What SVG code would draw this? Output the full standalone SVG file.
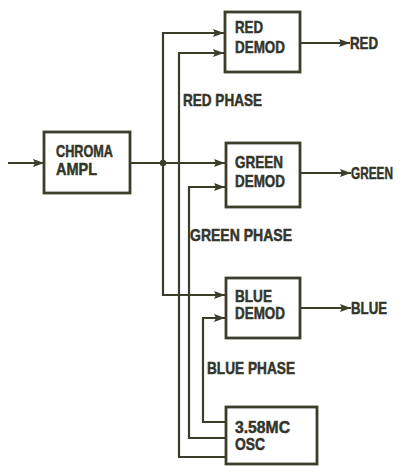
<svg xmlns="http://www.w3.org/2000/svg" width="400" height="466" viewBox="0 0 400 466">
<style>
.box{fill:#fff;stroke:#3c3d2a;stroke-width:2.8}
.ln{fill:none;stroke:#3c3d2a;stroke-width:2.2}
.t{font-family:"Liberation Sans",Arial,sans-serif;font-weight:bold;font-size:16.5px;fill:#34352a;stroke:#34352a;stroke-width:0.5}
</style>
<defs>
<marker id="arr" viewBox="0 0 11 8" refX="11" refY="4" markerWidth="11" markerHeight="8" markerUnits="userSpaceOnUse" orient="auto">
<path d="M0,0 L11,4 L0,8 L2,4 Z" fill="#3c3d2a"/>
</marker>
</defs>
<rect width="400" height="466" fill="#fff"/>
<g id="connectors">
<path class="ln" d="M8,163 H44" marker-end="url(#arr)"/>
<path class="ln" d="M130,163 H225" marker-end="url(#arr)"/>
<path class="ln" d="M163,163 V33 H224" marker-end="url(#arr)"/>
<path class="ln" d="M163,163 V295 H225" marker-end="url(#arr)"/>
<path class="ln" d="M226,457 H179 V53 H224" marker-end="url(#arr)"/>
<path class="ln" d="M226,438 H189 V187 H225" marker-end="url(#arr)"/>
<path class="ln" d="M226,422 H203 V318 H225" marker-end="url(#arr)"/>
<path class="ln" d="M300,43 H350" marker-end="url(#arr)"/>
<path class="ln" d="M300,173 H351" marker-end="url(#arr)"/>
<path class="ln" d="M300,308 H351" marker-end="url(#arr)"/>
<circle cx="163" cy="163" r="3.2" fill="#3c3d2a"/>
</g>
<g id="chroma">
<rect class="box" x="44" y="132" width="86" height="61"/>
<text class="t" x="56" y="157" textLength="57" lengthAdjust="spacingAndGlyphs">CHROMA</text>
<text class="t" x="56" y="175" textLength="41" lengthAdjust="spacingAndGlyphs">AMPL</text>
</g>
<g id="red-demod">
<rect class="box" x="225" y="12" width="75" height="60"/>
<text class="t" x="235" y="33" textLength="28" lengthAdjust="spacingAndGlyphs">RED</text>
<text class="t" x="235" y="53" textLength="50" lengthAdjust="spacingAndGlyphs">DEMOD</text>
</g>
<g id="green-demod">
<rect class="box" x="226" y="143" width="74" height="64"/>
<text class="t" x="235" y="168" textLength="48" lengthAdjust="spacingAndGlyphs">GREEN</text>
<text class="t" x="235" y="187" textLength="50" lengthAdjust="spacingAndGlyphs">DEMOD</text>
</g>
<g id="blue-demod">
<rect class="box" x="226" y="278" width="74" height="60"/>
<text class="t" x="235" y="302" textLength="37" lengthAdjust="spacingAndGlyphs">BLUE</text>
<text class="t" x="235" y="319" textLength="50" lengthAdjust="spacingAndGlyphs">DEMOD</text>
</g>
<g id="osc">
<rect class="box" x="226" y="407" width="91" height="57"/>
<text class="t" x="235" y="433" textLength="55" lengthAdjust="spacingAndGlyphs">3.58MC</text>
<text class="t" x="235" y="450" textLength="30" lengthAdjust="spacingAndGlyphs">OSC</text>
</g>
<g id="labels">
<text class="t" x="350" y="49" textLength="28" lengthAdjust="spacingAndGlyphs">RED</text>
<text class="t" transform="translate(351,179) scale(0.715,1)" x="0" y="0">GREEN</text>
<text class="t" x="351" y="314" textLength="36" lengthAdjust="spacingAndGlyphs">BLUE</text>
<text class="t" x="183" y="106" textLength="79" lengthAdjust="spacingAndGlyphs">RED PHASE</text>
<text class="t" x="190" y="241" textLength="102" lengthAdjust="spacingAndGlyphs">GREEN PHASE</text>
<text class="t" x="207" y="374" textLength="88" lengthAdjust="spacingAndGlyphs">BLUE PHASE</text>
</g>
</svg>
